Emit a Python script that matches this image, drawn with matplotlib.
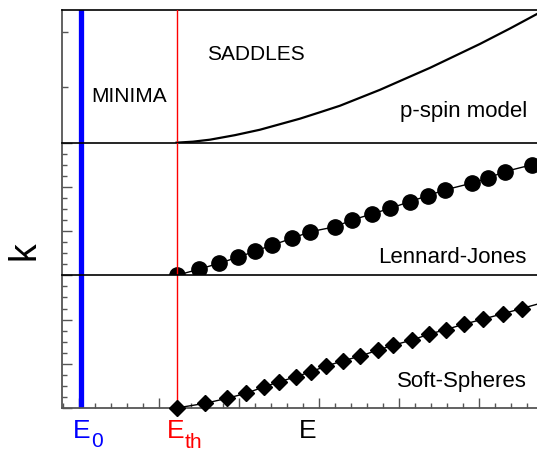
import matplotlib
matplotlib.use('Agg')
import matplotlib.pyplot as plt
import numpy as np
from matplotlib.ticker import MultipleLocator, FixedLocator

plt.rcParams['font.family'] = ['Liberation Sans', 'DejaVu Sans']

# ---- data ----
E0 = 0.1
Eth = 6.1

pspin_E = [6.1, 7.125, 8.19, 9.75, 11.31, 12.56, 13.81, 15.06, 16.31, 17.56,
           18.81, 20.38, 21.94, 23.5, 25.06, 26.94, 28.625]
pspin_k = [0.0, 0.009, 0.027, 0.068, 0.117, 0.167, 0.217, 0.275, 0.334, 0.406,
           0.478, 0.578, 0.677, 0.785, 0.893, 1.033, 1.164]

lj_E = [6.1, 7.5, 8.75, 9.94, 11.0, 12.06, 13.31, 14.44, 16.0, 17.06,
        18.31, 19.44, 20.69, 21.81, 22.88, 24.56, 25.56, 26.63, 28.31]
lj_k = [0.0, 0.055, 0.109, 0.164, 0.218, 0.273, 0.334, 0.394, 0.439, 0.5,
        0.555, 0.606, 0.667, 0.721, 0.773, 0.834, 0.879, 0.939, 1.0]

ss_E = [6.1, 7.875, 9.27, 10.44, 11.58, 12.52, 13.54, 14.5, 15.44, 16.52,
        17.56, 18.67, 19.64, 20.79, 21.89, 22.94, 24.06, 25.23, 26.52, 27.67]
ss_k = [0.0, 0.042, 0.088, 0.133, 0.192, 0.237, 0.282, 0.328, 0.379, 0.427,
        0.469, 0.523, 0.568, 0.614, 0.668, 0.710, 0.758, 0.803, 0.854, 0.900]

panel_labels = ['p-spin model', 'Lennard-Jones', 'Soft-Spheres']
panel_label_y = [0.235, 0.109, 0.189]

XMIN, XMAX = -1.06, 28.625
YMAX = 1.2

fig = plt.figure(figsize=(5.37, 4.51), dpi=100)
L = 62 / 537
B = 1 - 408 / 451
T = 1 - 10 / 451
H = (T - B) / 3
axes = [fig.add_axes([L, B + (2 - i) * H, 1 - L, H]) for i in range(3)]

spine_grey = '#555555'
for i, ax in enumerate(axes):
    ax.set_xlim(XMIN, XMAX)
    ax.set_ylim(0, YMAX)
    ax.spines['right'].set_visible(False)
    ax.spines['top'].set_color('black')
    ax.spines['top'].set_linewidth(1.2)
    ax.spines['left'].set_color(spine_grey)
    ax.spines['left'].set_linewidth(1.3)
    if i < 2:
        ax.spines['bottom'].set_visible(False)
        ax.tick_params(axis='x', which='both', bottom=False, labelbottom=False)
    else:
        ax.spines['bottom'].set_color(spine_grey)
        ax.spines['bottom'].set_linewidth(1.3)
        ax.xaxis.set_major_locator(MultipleLocator(5))
        ax.xaxis.set_minor_locator(MultipleLocator(1))
        ax.tick_params(axis='x', which='major', direction='in', length=7,
                       width=1, color=spine_grey, labelbottom=False)
        ax.tick_params(axis='x', which='minor', direction='in', length=3.5,
                       width=1, color=spine_grey)
    if i == 0:
        ax.yaxis.set_major_locator(FixedLocator([0.5, 1.0]))
        ax.tick_params(axis='y', which='major', direction='in', length=4.5,
                       width=1, color=spine_grey, labelleft=False)
    else:
        ax.yaxis.set_major_locator(MultipleLocator(0.4))
        ax.yaxis.set_minor_locator(MultipleLocator(0.1))
        ax.tick_params(axis='y', which='major', direction='in', length=7,
                       width=1, color=spine_grey, labelleft=False)
        ax.tick_params(axis='y', which='minor', direction='in', length=3.5,
                       width=1, color=spine_grey)
    ax.axvline(E0, color='#0000ff', lw=3.8, zorder=2)
    ax.axvline(Eth, color='#ff0000', lw=1.0, zorder=5 if i < 2 else 2)
    ax.text(28.0, panel_label_y[i], panel_labels[i], fontsize=16,
            ha='right', va='baseline')

# p-spin
axes[0].plot(pspin_E, pspin_k, color='black', lw=1.6, zorder=3,
             solid_joinstyle='round')
axes[0].text(11.06, 0.749, 'SADDLES', fontsize=15, ha='center', va='baseline')
axes[0].text(3.16, 0.37, 'MINIMA', fontsize=15, ha='center', va='baseline')

# Lennard-Jones
axes[1].plot(lj_E, lj_k, color='black', lw=1.0, zorder=3)
axes[1].plot(lj_E, lj_k, 'o', color='black', ms=11, clip_on=False, zorder=4)

# Soft spheres
axes[2].plot(ss_E, ss_k, color='black', lw=1.0, zorder=3)
p = np.polyfit(ss_E[-5:], ss_k[-5:], 1)
axes[2].plot([ss_E[-1], XMAX], np.polyval(p, [ss_E[-1], XMAX]), color='black', lw=1.0, zorder=3)
axes[2].plot(ss_E, ss_k, 'D', color='black', ms=8.5, clip_on=False, zorder=4)

# bottom labels
axb = axes[2]
xc = ('data', 'axes fraction')
axb.annotate('E', xy=(E0, 0), xycoords=xc, xytext=(10, -29.5), textcoords='offset pixels',
             ha='right', va='baseline', fontsize=19, color='#0000ff', annotation_clip=False)
axb.annotate('0', xy=(E0, 0), xycoords=xc, xytext=(10.5, -39), textcoords='offset pixels',
             ha='left', va='baseline', fontsize=15, color='#0000ff', annotation_clip=False)
axb.annotate('E', xy=(Eth, 0), xycoords=xc, xytext=(8, -29.5), textcoords='offset pixels',
             ha='right', va='baseline', fontsize=19, color='#ff0000', annotation_clip=False)
axb.annotate('th', xy=(Eth, 0), xycoords=xc, xytext=(8.5, -40), textcoords='offset pixels',
             ha='left', va='baseline', fontsize=15, color='#ff0000', annotation_clip=False)
axb.annotate('E', xy=(14.28, 0), xycoords=xc, xytext=(0, -29.5), textcoords='offset pixels',
             ha='center', va='baseline', fontsize=19, color='black', annotation_clip=False)

fig.text(24.5 / 537, 1 - 251 / 451, 'k', rotation=90, fontsize=27,
         ha='center', va='center')

fig.savefig('out.png', dpi=100)
